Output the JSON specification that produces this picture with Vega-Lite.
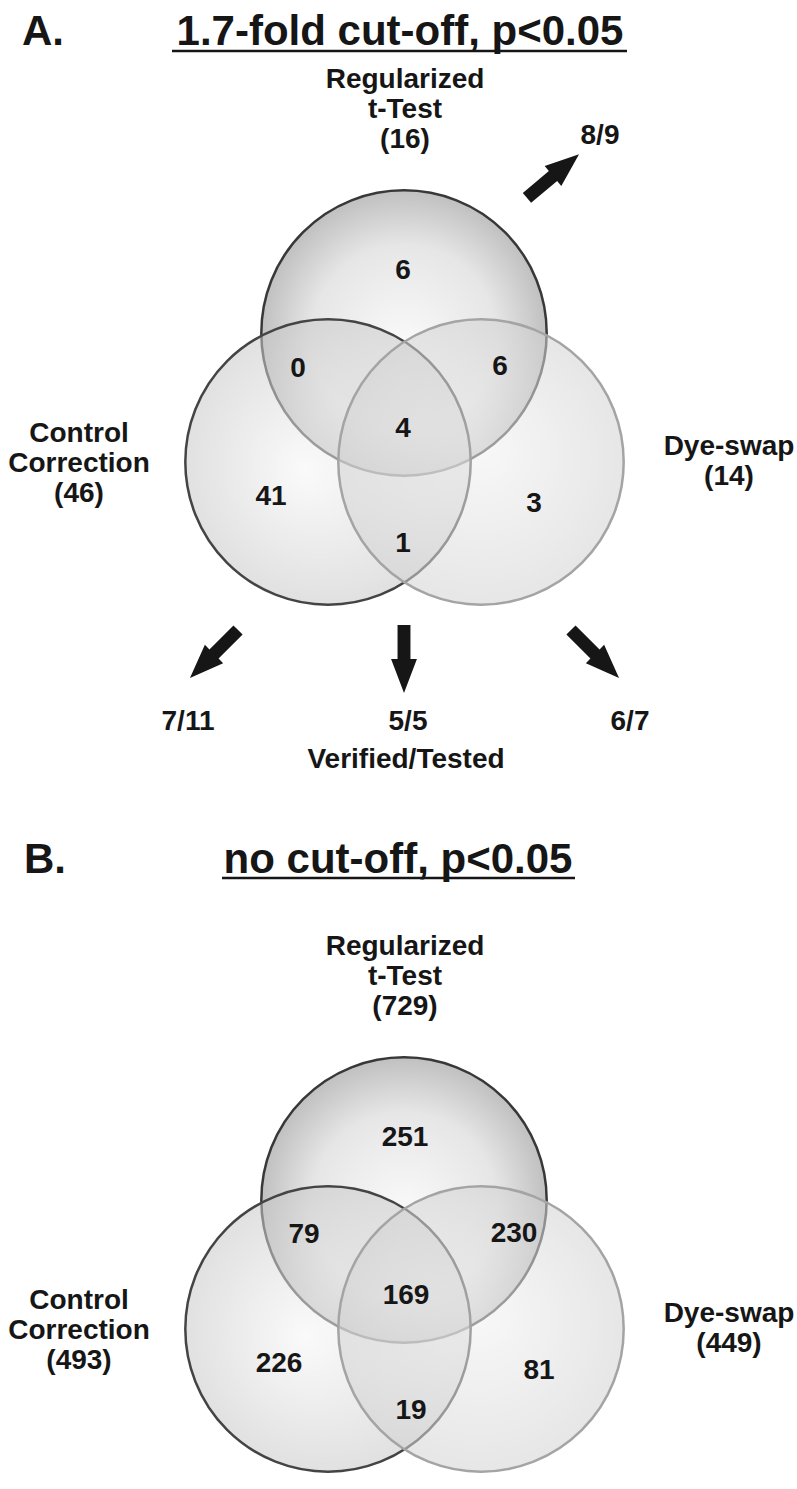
{
  "$schema": "https://vega.github.io/schema/vega-lite/v6.json",
  "width": 797,
  "height": 1489,
  "padding": 0,
  "autosize": {"type": "none"},
  "background": "white",
  "config": {"view": {"stroke": null}, "text": {"font": "Liberation Sans", "fontWeight": "bold", "color": "#161616"}},
  "datasets": {
    "circles": [
      {"panel": "A", "set": "Regularized t-Test", "role": "top", "x": 404, "y": 333},
      {"panel": "A", "set": "Control Correction", "role": "left", "x": 328, "y": 462},
      {"panel": "A", "set": "Dye-swap", "role": "right", "x": 481, "y": 462},
      {"panel": "B", "set": "Regularized t-Test", "role": "top", "x": 404, "y": 1200},
      {"panel": "B", "set": "Control Correction", "role": "left", "x": 328, "y": 1329},
      {"panel": "B", "set": "Dye-swap", "role": "right", "x": 481, "y": 1329}
    ],
    "regions": [
      {"panel": "A", "region": "T only", "count": 6, "x": 403, "y": 279},
      {"panel": "A", "region": "T&C", "count": 0, "x": 298, "y": 377},
      {"panel": "A", "region": "T&D", "count": 6, "x": 500, "y": 375},
      {"panel": "A", "region": "T&C&D", "count": 4, "x": 403, "y": 437},
      {"panel": "A", "region": "C only", "count": 41, "x": 271, "y": 505},
      {"panel": "A", "region": "D only", "count": 3, "x": 534, "y": 512},
      {"panel": "A", "region": "C&D", "count": 1, "x": 403, "y": 552},
      {"panel": "B", "region": "T only", "count": 251, "x": 405, "y": 1146},
      {"panel": "B", "region": "T&C", "count": 79, "x": 304, "y": 1243},
      {"panel": "B", "region": "T&D", "count": 230, "x": 514, "y": 1242},
      {"panel": "B", "region": "T&C&D", "count": 169, "x": 406, "y": 1304},
      {"panel": "B", "region": "C only", "count": 226, "x": 279, "y": 1372},
      {"panel": "B", "region": "D only", "count": 81, "x": 539, "y": 1379},
      {"panel": "B", "region": "C&D", "count": 19, "x": 411, "y": 1419}
    ],
    "labels": [
      {"panel": "A", "label": "Regularized|t-Test|(16)", "x": 405, "y": 88},
      {"panel": "A", "label": "Control|Correction|(46)", "x": 79, "y": 442},
      {"panel": "A", "label": "Dye-swap|(14)", "x": 729, "y": 455},
      {"panel": "B", "label": "Regularized|t-Test|(729)", "x": 405, "y": 955},
      {"panel": "B", "label": "Control|Correction|(493)", "x": 79, "y": 1309},
      {"panel": "B", "label": "Dye-swap|(449)", "x": 729, "y": 1322},
      {"panel": "A", "label": "8/9", "x": 600, "y": 144},
      {"panel": "A", "label": "7/11", "x": 188, "y": 730},
      {"panel": "A", "label": "5/5", "x": 408, "y": 730},
      {"panel": "A", "label": "6/7", "x": 630, "y": 730},
      {"panel": "A", "label": "Verified/Tested", "x": 406, "y": 768}
    ],
    "arrows": [
      {"panel": "A", "target": "8/9", "x": 553, "y": 176, "angle": 50},
      {"panel": "A", "target": "7/11", "x": 214, "y": 654, "angle": 225},
      {"panel": "A", "target": "5/5", "x": 404, "y": 659, "angle": 180},
      {"panel": "A", "target": "6/7", "x": 595, "y": 654, "angle": 135}
    ],
    "letters": [
      {"panel": "A", "text": "A.", "x": 22, "y": 45},
      {"panel": "B", "text": "B.", "x": 24, "y": 873}
    ],
    "titles": [
      {"panel": "A", "text": "1.7-fold cut-off, p<0.05", "x": 400, "y": 45, "ux": 172, "ux2": 627, "uy": 51},
      {"panel": "B", "text": "no cut-off, p<0.05", "x": 398, "y": 873, "ux": 222, "ux2": 575, "uy": 878}
    ]
  },
  "layer": [
    {
      "data": {"name": "circles"},
      "transform": [{"filter": "datum.role === 'top'"}],
      "mark": {
        "type": "point", "shape": "circle", "filled": true, "size": 81433, "opacity": 1,
        "fill": {"gradient": "radial", "x1": 0.5, "y1": 0.55, "r1": 0, "x2": 0.5, "y2": 0.5, "r2": 0.5,
          "stops": [{"offset": 0, "color": "#fafafa"}, {"offset": 0.65, "color": "#e6e6e6"}, {"offset": 1, "color": "#c0c0c0"}]},
        "stroke": "#383838", "strokeWidth": 2.5
      },
      "encoding": {
        "x": {"field": "x", "type": "quantitative", "scale": {"domain": [0, 797], "range": [0, 797], "nice": false, "zero": false}, "axis": null},
        "y": {"field": "y", "type": "quantitative", "scale": {"domain": [0, 1489], "range": [0, 1489], "nice": false, "zero": false}, "axis": null}
      }
    },
    {
      "data": {"name": "circles"},
      "transform": [{"filter": "datum.role === 'left'"}],
      "mark": {
        "type": "point", "shape": "circle", "filled": true, "size": 81433, "opacity": 1, "fillOpacity": 0.55,
        "fill": {"gradient": "radial", "x1": 0.42, "y1": 0.53, "r1": 0, "x2": 0.5, "y2": 0.5, "r2": 0.5,
          "stops": [{"offset": 0, "color": "#f6f6f6"}, {"offset": 1, "color": "#c8c8c8"}]},
        "stroke": "#444444", "strokeWidth": 2.5
      },
      "encoding": {
        "x": {"field": "x", "type": "quantitative", "axis": null},
        "y": {"field": "y", "type": "quantitative", "axis": null}
      }
    },
    {
      "data": {"name": "circles"},
      "transform": [{"filter": "datum.role === 'right'"}],
      "mark": {
        "type": "point", "shape": "circle", "filled": true, "size": 81433, "opacity": 1, "fillOpacity": 0.55,
        "fill": {"gradient": "radial", "x1": 0.5, "y1": 0.45, "r1": 0, "x2": 0.5, "y2": 0.5, "r2": 0.5,
          "stops": [{"offset": 0, "color": "#f2f2f2"}, {"offset": 1, "color": "#d2d2d2"}]},
        "stroke": "#a4a4a4", "strokeWidth": 2.5
      },
      "encoding": {
        "x": {"field": "x", "type": "quantitative", "axis": null},
        "y": {"field": "y", "type": "quantitative", "axis": null}
      }
    },
    {
      "data": {"name": "regions"},
      "mark": {"type": "text", "fontSize": 28, "align": "center", "baseline": "alphabetic"},
      "encoding": {
        "x": {"field": "x", "type": "quantitative", "axis": null},
        "y": {"field": "y", "type": "quantitative", "axis": null},
        "text": {"field": "count", "type": "quantitative", "format": "d"}
      }
    },
    {
      "data": {"name": "labels"},
      "mark": {"type": "text", "fontSize": 28, "align": "center", "baseline": "alphabetic", "lineBreak": "|", "lineHeight": 30},
      "encoding": {
        "x": {"field": "x", "type": "quantitative", "axis": null},
        "y": {"field": "y", "type": "quantitative", "axis": null},
        "text": {"field": "label", "type": "nominal"}
      }
    },
    {
      "data": {"name": "arrows"},
      "mark": {"type": "point", "filled": true, "opacity": 1, "size": 4624, "color": "#161616",
        "shape": "M-0.19,1L0.19,1L0.19,0L0.38,0L0,-1L-0.38,0L-0.19,0Z"},
      "encoding": {
        "x": {"field": "x", "type": "quantitative", "axis": null},
        "y": {"field": "y", "type": "quantitative", "axis": null},
        "angle": {"field": "angle", "type": "quantitative", "scale": null}
      }
    },
    {
      "data": {"name": "letters"},
      "mark": {"type": "text", "fontSize": 42, "align": "left", "baseline": "alphabetic"},
      "encoding": {
        "x": {"field": "x", "type": "quantitative", "axis": null},
        "y": {"field": "y", "type": "quantitative", "axis": null},
        "text": {"field": "text", "type": "nominal"}
      }
    },
    {
      "data": {"name": "titles"},
      "mark": {"type": "text", "fontSize": 42, "align": "center", "baseline": "alphabetic"},
      "encoding": {
        "x": {"field": "x", "type": "quantitative", "axis": null},
        "y": {"field": "y", "type": "quantitative", "axis": null},
        "text": {"field": "text", "type": "nominal"}
      }
    },
    {
      "data": {"name": "titles"},
      "mark": {"type": "rule", "color": "#161616", "strokeWidth": 2.5},
      "encoding": {
        "x": {"field": "ux", "type": "quantitative", "axis": null},
        "x2": {"field": "ux2"},
        "y": {"field": "uy", "type": "quantitative", "axis": null}
      }
    }
  ]
}
